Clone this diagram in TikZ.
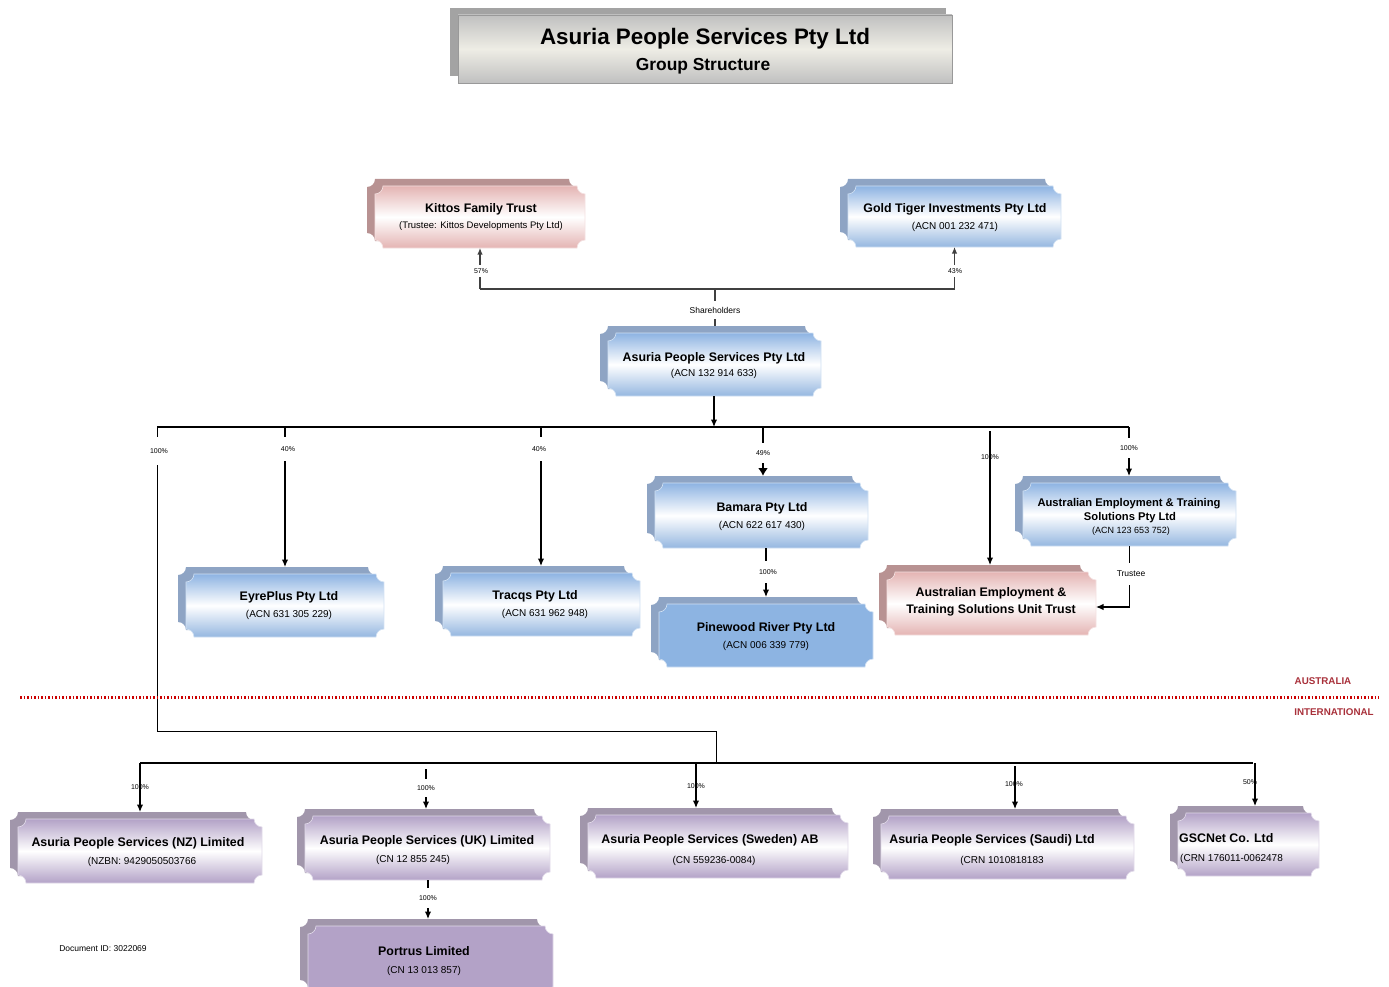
\documentclass[tikz,border=0pt]{standalone}
\usepackage{fontspec}
\setmainfont{Liberation Sans}
\usetikzlibrary{arrows.meta}
\definecolor{blueF}{HTML}{8DB3E2}
\definecolor{blueF2}{HTML}{95B7E0}
\definecolor{blueSh}{HTML}{8EA4C4}
\definecolor{pinkF}{HTML}{E4B4B3}
\definecolor{pinkSh}{HTML}{B89292}
\definecolor{purF}{HTML}{B3A2C7}
\definecolor{purSh}{HTML}{A196AB}
\definecolor{pwF}{HTML}{8DB4E2}
\definecolor{greyF}{HTML}{C0C0C0}
\definecolor{greyM}{HTML}{EEEDE5}
\definecolor{greySh}{HTML}{A3A3A3}
\definecolor{redln}{HTML}{CC0000}
\definecolor{redtx}{HTML}{A8303A}
\definecolor{gline}{HTML}{404040}
\def\plqR{8}
\def\plqK{4.4}
\newcommand\plqshape[5]{%
  \path[#1] ({#2+\plqR},{#3}) -- ({#4-\plqR},{#3})
    .. controls ({#4-\plqR},{#3+\plqK}) and ({#4-\plqK},{#3+\plqR}) .. ({#4},{#3+\plqR})
    -- ({#4},{#5-\plqR})
    .. controls ({#4-\plqK},{#5-\plqR}) and ({#4-\plqR},{#5-\plqK}) .. ({#4-\plqR},{#5})
    -- ({#2+\plqR},{#5})
    .. controls ({#2+\plqR},{#5-\plqK}) and ({#2+\plqK},{#5-\plqR}) .. ({#2},{#5-\plqR})
    -- ({#2},{#3+\plqR})
    .. controls ({#2+\plqK},{#3+\plqR}) and ({#2+\plqR},{#3+\plqK}) .. ({#2+\plqR},{#3})
    -- cycle;}
\newcommand\plq[6]{%
  \plqshape{#6 sh}{#2-8}{#3-7}{#4-8}{#5-7}
  \plqshape{#6 fr}{#2}{#3}{#4}{#5}
  \coordinate (#1-c) at ({(#2+#4)/2},{(#3+#5)/2});
  \node[boxnode, minimum width={#4-#2+8}, minimum height={#5-#3+7}] (#1) at ({(#2+#4-8)/2},{(#3+#5-7)/2}) {};}
\tikzset{
  blue sh/.style={fill=blueSh},
  blue fr/.style={top color=blueF, bottom color=blueF2, middle color=white, draw=white!60!blueF, line width=0.6pt},
  pink sh/.style={fill=pinkSh},
  pink fr/.style={top color=pinkF, bottom color=pinkF, middle color=white, draw=white!60!pinkF, line width=0.6pt},
  pur sh/.style={fill=purSh},
  pur fr/.style={top color=purF, bottom color=purF, middle color=white, draw=white!60!purF, line width=0.6pt},
  pw sh/.style={fill=blueSh},
  pw fr/.style={fill=pwF, draw=white!60!pwF, line width=0.6pt},
  po sh/.style={fill=purSh},
  po fr/.style={fill=purF, draw=white!60!purF, line width=0.6pt},
  boxnode/.style={inner sep=0pt, outer sep=0pt, draw=none},
  nm/.style={font=\fontsize{12.4}{14}\selectfont\bfseries, inner sep=0pt, yshift=-1.5pt},
  nms/.style={font=\fontsize{11.2}{13}\selectfont\bfseries, inner sep=0pt, yshift=-1.5pt},
  sub/.style={font=\fontsize{10}{12}\selectfont, inner sep=0pt, yshift=-1.5pt},
  pct/.style={font=\fontsize{7}{8}\selectfont, inner sep=0.5pt},
  gpct/.style={pct, fill=white, inner ysep=8pt},
  lbl/.style={font=\fontsize{8.5}{10}\selectfont, inner sep=1pt},
  ln/.style={line width=1.2pt, black},
  arr/.style={ln, -{Latex[length=7.5pt,width=6.5pt]}},
  tarr/.style={line width=2.4pt, -{Latex[length=8pt,width=10pt]}},
  garr/.style={line width=1.2pt, gline, -{Latex[length=6.5pt,width=5.5pt]}},
  gln/.style={line width=1.2pt, gline},
  bus/.style={line width=2.8pt},
  redline/.style={redln, line width=3pt, dash pattern=on 1.6pt off 1.9pt},
  redlbl/.style={font=\fontsize{9.8}{11}\selectfont\bfseries, text=redtx, inner sep=0pt}
}
\begin{document}
\begin{tikzpicture}[x=1pt,y=-1pt]
\useasboundingbox (0,0) rectangle (1389,987);
% title
\path[fill=greySh] (450,8) rectangle (946,76);
\path[top color=greyF, bottom color=greyF, middle color=greyM, draw=gray!80, line width=0.6pt] (458,15) rectangle (952,83);
\node[boxnode, minimum width=494, minimum height=68] (title) at (705,49) {};
\node[font=\fontsize{22.4}{26}\selectfont\bfseries, inner sep=0pt, yshift=-2.5pt] (title-a) at (705,36) {Asuria People Services Pty Ltd};
\node[font=\fontsize{17.4}{20}\selectfont\bfseries, inner sep=0pt, yshift=-2pt] (title-b) at (703,64) {Group Structure};
% boxes
\plq{kft}{375}{186}{585}{248}{pink}
\plq{gt}{848}{186}{1061}{247}{blue}
\plq{aps}{608}{333}{821}{396}{blue}
\plq{bam}{655}{483}{868}{548}{blue}
\plq{aets}{1023}{483}{1236}{546}{blue}
\plq{ep}{186}{574}{384}{637}{blue}
\plq{tq}{443}{573}{640}{636}{blue}
\plq{pw}{659}{604}{873}{667}{pw}
\plq{ut}{887}{572}{1096}{635}{pink}
\plq{nz}{18}{819}{262}{883}{pur}
\plq{uk}{305}{816}{550}{880}{pur}
\plq{sw}{588}{815}{848}{878}{pur}
\plq{sa}{881}{816}{1134}{879}{pur}
\plq{gs}{1178}{813}{1319}{876}{pur}
\plq{po}{308}{926}{553}{995}{po}
% texts
\node[nm] (kft-a) at (481,208) {Kittos Family Trust};
\node[sub, font=\fontsize{9.5}{11}\selectfont] (kft-b) at (481,225) {(Trustee: Kittos Developments Pty Ltd)};
\node[nm] (gt-a) at (955,208) {Gold Tiger Investments Pty Ltd};
\node[sub] (gt-b) at (955,225) {(ACN 001 232 471)};
\node[nm] (aps-a) at (714,357) {Asuria People Services Pty Ltd};
\node[sub] (aps-b) at (714,372) {(ACN 132 914 633)};
\node[nm] (bam-a) at (762,507) {Bamara Pty Ltd};
\node[sub] (bam-b) at (762,524) {(ACN 622 617 430)};
\node[nms] (aets-a) at (1129,502) {Australian Employment \& Training};
\node[nms] (aets-b) at (1130,516) {Solutions Pty Ltd};
\node[sub, font=\fontsize{9}{10}\selectfont] (aets-c2) at (1131,530) {(ACN 123 653 752)};
\node[nm] (ep-a) at (289,596) {EyrePlus Pty Ltd};
\node[sub] (ep-b) at (289,613) {(ACN 631 305 229)};
\node[nm] (tq-a) at (535,595) {Tracqs Pty Ltd};
\node[sub] (tq-b) at (545,612) {(ACN 631 962 948)};
\node[nm] (pw-a) at (766,627) {Pinewood River Pty Ltd};
\node[sub] (pw-b) at (766,644) {(ACN 006 339 779)};
\node[nm] (ut-a) at (991,592) {Australian Employment \&};
\node[nm] (ut-b) at (991,609) {Training Solutions Unit Trust};
\node[nm] (nz-a) at (138,842) {Asuria People Services (NZ) Limited};
\node[sub] (nz-b) at (142,860) {(NZBN: 9429050503766};
\node[nm] (uk-a) at (427,840) {Asuria People Services (UK) Limited};
\node[sub] (uk-b) at (413,858) {(CN 12 855 245)};
\node[nm] (sw-a) at (710,839) {Asuria People Services (Sweden) AB};
\node[sub] (sw-b) at (714,859) {(CN 559236-0084)};
\node[nm] (sa-a) at (992,839) {Asuria People Services (Saudi) Ltd};
\node[sub] (sa-b) at (1002,859) {(CRN 1010818183};
\node[nm, anchor=west] (gs-a) at (1179,837) {GSCNet Co. Ltd};
\node[sub, anchor=west] (gs-b) at (1180,857) {(CRN 176011-0062478};
\node[nm] (po-a) at (424,950) {Portrus Limited};
\node[sub] (po-b) at (424,969) {(CN 13 013 857)};
% shareholders
\coordinate (sh) at (715,289);
\draw[gln] (sh -| kft-c) -- (sh -| gt-c);
\draw[garr] (sh -| kft-c) -- (kft.south -| kft-c);
\draw[garr] (sh -| gt-c) -- (gt.south -| gt-c);
\draw[gln] (sh) -- (aps.north -| sh);
\node[pct, fill=white, inner ysep=4pt] (p57) at (481,271) {57\%};
\node[pct, fill=white, inner ysep=4pt] (p43) at (955,271) {43\%};
\node[lbl, fill=white, inner ysep=6pt] (shl) at (715,310) {Shareholders};
% australian subsidiaries
\coordinate (b0) at (714,427);
\coordinate (bL) at (157,427);
\coordinate (bR) at (1129,427);
\draw[arr] (aps.south -| b0) -- (b0);
\draw[ln] (bL) -- (bR);
\coordinate (k1) at (157,731);
\coordinate (iB) at (716,763);
\draw[line width=0.9pt] (bL) -- (k1) -| (iB);
\node[gpct, inner ysep=12pt] (p100a) at (159,451) {100\%};
\coordinate (d1) at (285,427);
\draw[arr] (d1) -- (ep.north -| d1);
\node[gpct, inner ysep=10pt] (p40a) at (288,449) {40\%};
\coordinate (d2) at (541,427);
\draw[arr] (d2) -- (tq.north -| d2);
\node[gpct, inner ysep=10pt] (p40b) at (539,449) {40\%};
\coordinate (d3) at (763,427);
\draw[tarr] (d3) -- (bam.north -| d3);
\node[gpct, inner ysep=8pt] (p49) at (763,453) {49\%};
\coordinate (d4) at (990,431);
\draw[arr] (d4) -- (ut.north -| d4);
\node[pct] (p100b) at (990,457) {100\%};
\draw[arr] (bR) -- (aets.north -| bR);
\node[gpct, inner ysep=8pt] (p100c) at (1129,448) {100\%};
\draw[arr] (bam.south -| pw-c) -- (pw.north -| pw-c);
\node[gpct, inner ysep=9pt] (p100d) at (768,572) {100\%};
\coordinate (tr) at (1130,607);
\draw[arr] (aets.south -| aets-c) |- (ut.east |- tr);
\node[lbl, fill=white, inner ysep=8pt] (trl) at (1131,574) {Trustee};
% border line
\coordinate (dl) at (20,697);
\coordinate (dr) at (1379,697);
\draw[redline] (dl) -- (dr);
\node[redlbl] (aus) at (1323,681) {AUSTRALIA};
\node[redlbl] (intl) at (1334,712) {INTERNATIONAL};
% international
\coordinate (iL) at (140,763);
\coordinate (iR) at (1253,763);
\draw[bus] (iL) -- (iR);
\draw[arr] (iL) -- (nz.north -| iL);
\node[pct] (p100e) at (140,787) {100\%};
\coordinate (e2) at (426,769);
\draw[arr] (e2) -- (uk.north -| e2);
\node[gpct, inner ysep=7pt] (p100f) at (426,788) {100\%};
\coordinate (e3) at (696,763);
\draw[arr] (e3) -- (sw.north -| e3);
\node[pct] (p100g) at (696,786) {100\%};
\coordinate (e4) at (1015,766);
\draw[arr] (e4) -- (sa.north -| e4);
\node[pct] (p100h) at (1014,784) {100\%};
\coordinate (e5) at (1255,763);
\draw[arr] (e5) -- (gs.north -| e5);
\node[pct] (p50) at (1250,782) {50\%};
\coordinate (e6) at (428,880);
\draw[arr] (uk.south -| e6) -- (po.north -| e6);
\node[gpct, inner ysep=8pt] (p100i) at (428,898) {100\%};
\node[lbl, font=\fontsize{8.5}{10}\selectfont] (doc) at (103,949) {Document ID: 3022069};
\end{tikzpicture}
\end{document}
